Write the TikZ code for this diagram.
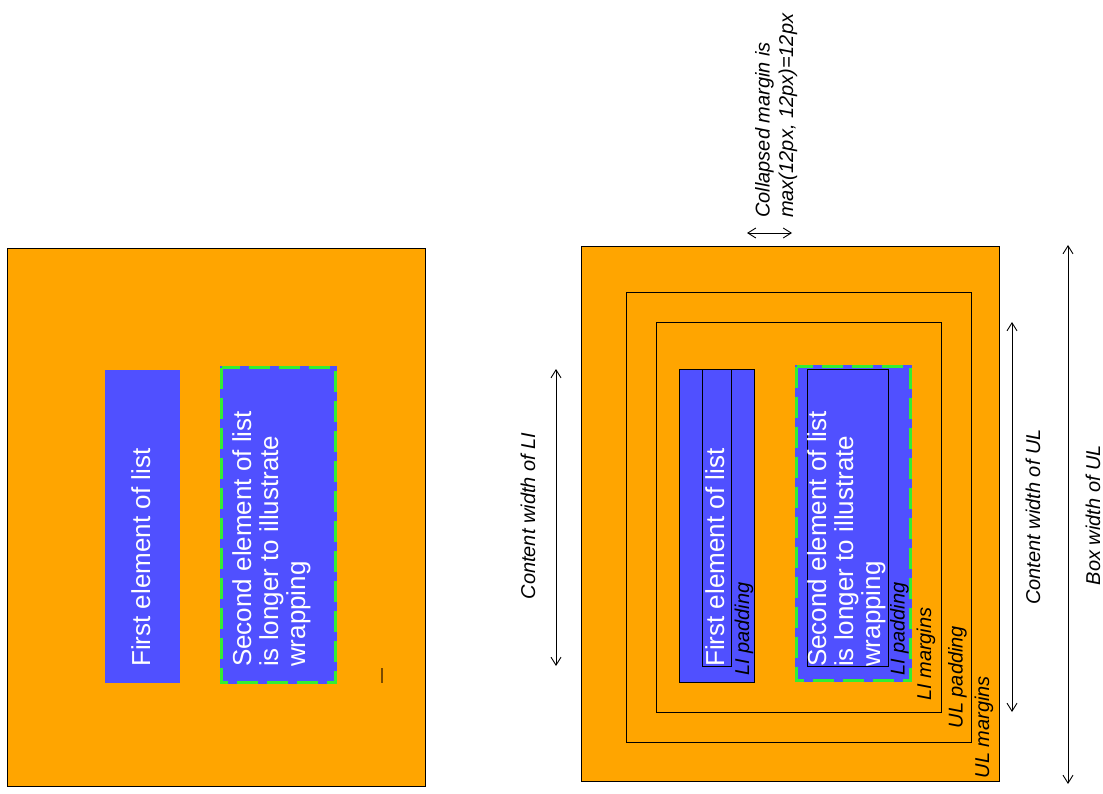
\documentclass[tikz,border=0pt]{standalone}
\usepackage{fontspec}
\setmainfont{Liberation Sans}
\usetikzlibrary{arrows.meta}
\definecolor{ulorange}{HTML}{FFA500}
\definecolor{liblue}{HTML}{5050FF}
\definecolor{bordergreen}{HTML}{33EE33}
\definecolor{markbrown}{HTML}{7A4A00}
\begin{document}
\begin{tikzpicture}[x=1pt,y=-1pt,
  ulbox/.style={fill=ulorange,draw=black,line width=1pt},
  frame/.style={draw=black,line width=0.9pt},
  liitem/.style={fill=liblue},
  greenborder/.style={draw=bordergreen,line width=3pt,dash pattern=on 21pt off 9pt},
  itemtext/.style={rotate=90,anchor=base west,text=white,inner sep=0pt,align=left,
    font=\fontsize{26}{27}\selectfont},
  boxlabel/.style={rotate=90,anchor=base west,inner sep=0pt,align=left,
    font=\fontsize{20}{23.5}\selectfont\itshape},
  dimlabel/.style={rotate=90,anchor=base,inner sep=0pt,
    font=\fontsize{20}{23.5}\selectfont\itshape},
  dimline/.style={draw=black,line width=0.9pt,
    {Straight Barb[length=8pt,width=10pt]}-{Straight Barb[length=8pt,width=10pt]}}
]
\useasboundingbox (0,0) rectangle (1103,794);

% ---------- left diagram ----------
\draw[ulbox] (7,249) rectangle (425,786);
\fill[liitem] (105,370) rectangle (180,683);
\fill[liitem] (220,366) rectangle (337,684);
\draw[greenborder] (221.5,367.5) rectangle (335.5,682.5);
\node[itemtext] (lone) at (150,667) {First element of list};
% multi-line node: base anchor is the baseline of the last line
\node[itemtext] (ltwo) at (305,667) {Second element of list\\is longer to illustrate\\wrapping};
\draw[markbrown,line width=1.5pt] (382,668) -- (382,683);

% ---------- right diagram ----------
\draw[ulbox] (581,247) rectangle (999,781);
\draw[frame] (626,292) rectangle (971,742);
\draw[frame] (656,322) rectangle (941,712);

\filldraw[liitem,draw=black,line width=0.9pt] (679,369) rectangle (754,682);
\draw[frame] (702,369) rectangle (731,666);

\fill[liitem] (795,365) rectangle (912,682);
\draw[greenborder] (796.5,366.5) rectangle (910.5,680.5);
\draw[frame] (807,369) rectangle (888,666);

\node[itemtext] (rone) at (724,667) {First element of list};
\node[itemtext] (rtwo) at (880,667) {Second element of list\\is longer to illustrate\\wrapping};

\node[boxlabel] (lipadone) at (749,676) {LI padding};
\node[boxlabel] (lipadtwo) at (904.5,676) {LI padding};
\node[boxlabel] (limarg) at (931,701) {LI margins};
\node[boxlabel] (ulpad) at (962.5,728.5) {UL padding};
\node[boxlabel] (ulmarg) at (989,778.5) {UL margins};

\node[boxlabel] (collapsed) at (793,218) {Collapsed margin is\\max(12px, 12px)=12px};
\coordinate (cma) at (747,233);
\coordinate (cmb) at (792,233);
\draw[dimline] (cma) -- (cmb);

\coordinate (lia) at (556,369);
\coordinate (lib) at (556,666);
\draw[dimline] (lia) -- (lib);
\node[dimlabel] (liwidth) at (535,516) {Content width of LI};

\coordinate (ula) at (1012,322);
\coordinate (ulb) at (1012,712);
\draw[dimline] (ula) -- (ulb);
\node[dimlabel] (ulwidth) at (1040,517) {Content width of UL};

\coordinate (bxa) at (1068,245);
\coordinate (bxb) at (1068,784);
\draw[dimline] (bxa) -- (bxb);
\node[dimlabel] (boxwidth) at (1100,515) {Box width of UL};
\end{tikzpicture}
\end{document}
